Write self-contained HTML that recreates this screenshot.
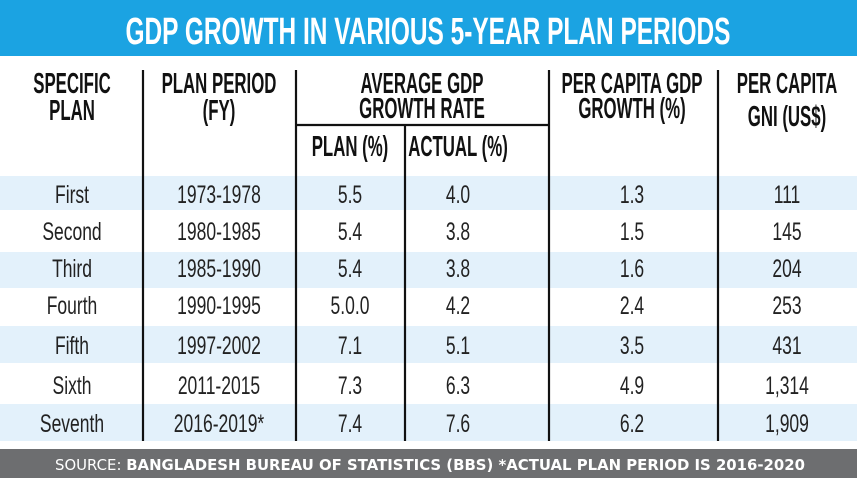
<!DOCTYPE html>
<html><head><meta charset="utf-8"><style>
html,body{margin:0;padding:0;background:#fff;width:857px;height:482px;overflow:hidden}
svg{display:block}
text{font-family:"Liberation Sans",sans-serif}
.h{font-weight:bold;font-size:29px;fill:#111}
.d{font-size:25px;fill:#222}
</style></head><body>
<svg width="857" height="482" viewBox="0 0 857 482" xmlns="http://www.w3.org/2000/svg">
<rect x="0" y="0" width="857" height="56" fill="#1ba3e2"/>
<text x="428" y="44" text-anchor="middle" font-weight="bold" font-size="38" fill="#fff" textLength="605" lengthAdjust="spacingAndGlyphs">GDP GROWTH IN VARIOUS 5-YEAR PLAN PERIODS</text>
<g fill="#e3f1fb">
<rect x="0" y="176" width="857" height="34"/>
<rect x="0" y="252" width="857" height="36"/>
<rect x="0" y="326" width="857" height="37"/>
<rect x="0" y="404" width="857" height="37"/>
</g>
<g stroke="#111" stroke-width="2.2">
<line x1="143" y1="70" x2="143" y2="441"/>
<line x1="296" y1="70" x2="296" y2="441"/>
<line x1="405" y1="125" x2="405" y2="441"/>
<line x1="549" y1="70" x2="549" y2="441"/>
<line x1="718" y1="70" x2="718" y2="441"/>
<line x1="296" y1="125" x2="549" y2="125"/>
</g>
<g text-anchor="middle">
<g transform="translate(72,0) scale(0.58,1)"><text class="h" x="0" y="93">SPECIFIC</text><text class="h" x="0" y="120">PLAN</text></g>
<g transform="translate(219,0) scale(0.58,1)"><text class="h" x="0" y="93">PLAN PERIOD</text><text class="h" x="0" y="120">(FY)</text></g>
<g transform="translate(422,0) scale(0.58,1)"><text class="h" x="0" y="93">AVERAGE GDP</text><text class="h" x="0" y="118">GROWTH RATE</text></g>
<g transform="translate(350,0) scale(0.58,1)"><text class="h" x="0" y="156">PLAN (%)</text></g>
<g transform="translate(458,0) scale(0.58,1)"><text class="h" x="0" y="156">ACTUAL (%)</text></g>
<g transform="translate(632,0) scale(0.58,1)"><text class="h" x="0" y="93">PER CAPITA GDP</text><text class="h" x="0" y="118">GROWTH (%)</text></g>
<g transform="translate(787,0) scale(0.58,1)"><text class="h" x="0" y="93">PER CAPITA</text><text class="h" x="0" y="126">GNI (US$)</text></g>
</g>
<g text-anchor="middle">
<g transform="translate(72,0) scale(0.7,1)">
<text class="d" x="0" y="203">First</text><text class="d" x="0" y="240">Second</text><text class="d" x="0" y="277">Third</text><text class="d" x="0" y="314">Fourth</text><text class="d" x="0" y="354">Fifth</text><text class="d" x="0" y="394">Sixth</text><text class="d" x="0" y="432">Seventh</text></g>
<g transform="translate(219,0) scale(0.7,1)">
<text class="d" x="0" y="203">1973-1978</text><text class="d" x="0" y="240">1980-1985</text><text class="d" x="0" y="277">1985-1990</text><text class="d" x="0" y="314">1990-1995</text><text class="d" x="0" y="354">1997-2002</text><text class="d" x="0" y="394">2011-2015</text><text class="d" x="0" y="432">2016-2019*</text></g>
<g transform="translate(350,0) scale(0.7,1)">
<text class="d" x="0" y="203">5.5</text><text class="d" x="0" y="240">5.4</text><text class="d" x="0" y="277">5.4</text><text class="d" x="0" y="314">5.0.0</text><text class="d" x="0" y="354">7.1</text><text class="d" x="0" y="394">7.3</text><text class="d" x="0" y="432">7.4</text></g>
<g transform="translate(458,0) scale(0.7,1)">
<text class="d" x="0" y="203">4.0</text><text class="d" x="0" y="240">3.8</text><text class="d" x="0" y="277">3.8</text><text class="d" x="0" y="314">4.2</text><text class="d" x="0" y="354">5.1</text><text class="d" x="0" y="394">6.3</text><text class="d" x="0" y="432">7.6</text></g>
<g transform="translate(632,0) scale(0.7,1)">
<text class="d" x="0" y="203">1.3</text><text class="d" x="0" y="240">1.5</text><text class="d" x="0" y="277">1.6</text><text class="d" x="0" y="314">2.4</text><text class="d" x="0" y="354">3.5</text><text class="d" x="0" y="394">4.9</text><text class="d" x="0" y="432">6.2</text></g>
<g transform="translate(787,0) scale(0.7,1)">
<text class="d" x="0" y="203">111</text><text class="d" x="0" y="240">145</text><text class="d" x="0" y="277">204</text><text class="d" x="0" y="314">253</text><text class="d" x="0" y="354">431</text><text class="d" x="0" y="394">1,314</text><text class="d" x="0" y="432">1,909</text></g>
</g>
<rect x="0" y="449" width="857" height="29" fill="#6d6e70"/>
<text x="55" y="470" font-size="15" fill="#fff" style="font-family:'DejaVu Sans',sans-serif" textLength="750" lengthAdjust="spacingAndGlyphs">SOURCE: <tspan font-weight="bold">BANGLADESH BUREAU OF STATISTICS (BBS) *ACTUAL PLAN PERIOD IS 2016-2020</tspan></text>
</svg>
</body></html>
